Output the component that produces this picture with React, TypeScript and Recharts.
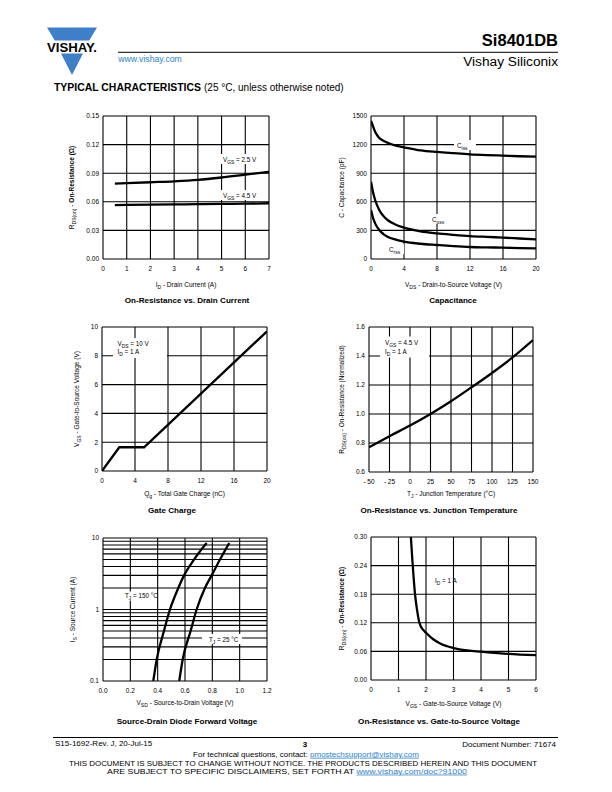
import React from "react";
import { LineChart, Line, XAxis, YAxis, CartesianGrid } from "recharts";

const FONT = "'Liberation Sans', Arial, Helvetica, sans-serif";
const BLUE = "#2f7fc6";
const LOGO = "#3f7fc8";

// On-Resistance vs. Drain Current
const idAmps = [0.5, 1, 2, 3, 4, 5, 6, 7];
const rdsAt25V = [0.079, 0.0795, 0.0805, 0.0815, 0.083, 0.0855, 0.0885, 0.0915];
const rdsAt45V = [0.0565, 0.0567, 0.057, 0.0572, 0.0575, 0.0578, 0.058, 0.0585];
const idTicks = [0, 1, 2, 3, 4, 5, 6, 7];
const rdsTicks = [0, 0.03, 0.06, 0.09, 0.12, 0.15];

// Capacitance
const vdsVolts = [0, 0.25, 0.5, 1, 1.5, 2, 3, 4, 6, 8, 10, 12, 14, 16, 18, 20];
const ciss = [1450, 1390, 1335, 1270, 1240, 1220, 1190, 1172, 1140, 1123, 1110, 1098, 1090, 1084, 1078, 1073];
const coss = [811, 700, 619, 514, 450, 409, 360, 329, 290, 269, 254, 241, 232, 224, 215, 206];
const crss = [514, 430, 374, 304, 262, 234, 203, 182, 160, 147, 135, 126, 122, 119, 115, 112];
const vdsTicks = [0, 4, 8, 12, 16, 20];
const capTicks = [0, 300, 600, 900, 1200, 1500];

// Gate Charge
const qgNc = [0, 2.1, 5.1, 20];
const vgsGate = [0, 1.65, 1.65, 9.7];
const qgTicks = [0, 4, 8, 12, 16, 20];
const vgsGateTicks = [0, 2, 4, 6, 8, 10];

// On-Resistance vs. Junction Temperature
const tjC = [-50, -25, 0, 25, 50, 75, 100, 125, 150];
const rdsNorm = [0.77, 0.847, 0.92, 1.0, 1.088, 1.184, 1.283, 1.39, 1.51];
const tjTicks = [-50, -25, 0, 25, 50, 75, 100, 125, 150];
const normTicks = [0.6, 0.8, 1.0, 1.2, 1.4, 1.6];

// Source-Drain Diode Forward Voltage
const isAmps = [0.1, 0.2, 0.5, 1, 2, 3, 5, 8.5];
const vsd150 = [0.368, 0.393, 0.446, 0.49, 0.551, 0.593, 0.666, 0.758];
const vsd25 = [0.558, 0.583, 0.641, 0.685, 0.746, 0.795, 0.856, 0.924];
const vsdTicks = [0, 0.2, 0.4, 0.6, 0.8, 1.0, 1.2];
const isTicks = [0.1, 0.2, 0.3, 0.4, 0.5, 0.6, 0.7, 0.8, 0.9, 1, 2, 3, 4, 5, 6, 7, 8, 9, 10];
const isLabels = [0.1, 1, 10];

// On-Resistance vs. Gate-to-Source Voltage
const vgsVolts = [1.45, 1.5, 1.55, 1.6, 1.68, 1.76, 1.9, 2, 2.25, 2.5, 3, 3.5, 4, 5, 6];
const rdsVsVgs = [0.3, 0.255, 0.215, 0.18, 0.145, 0.12, 0.105, 0.099, 0.086, 0.077, 0.067, 0.062, 0.0595, 0.055, 0.052];
const vgsTicks = [0, 1, 2, 3, 4, 5, 6];
const rdsVgsTicks = [0, 0.06, 0.12, 0.18, 0.24, 0.3];

type Pt = { x: number; y: number };
const pts = (xs: number[], ys: number[]): Pt[] => xs.map((x, i) => ({ x, y: ys[i] }));

type Box = { x: number; y: number; w: number; h: number };

interface PanelProps {
  box: Box;
  xDomain: [number, number];
  xTicks: number[];
  xFmt?: (v: number) => string;
  yDomain: [number, number];
  yTicks: number[];
  yFmt?: (v: number) => string;
  yLog?: boolean;
  series: Pt[][];
  curve?: "monotone" | "linear";
}

const tickStyle = { fontSize: 6.5, fill: "#000", fontFamily: FONT };

// log axis: grid at every tick, labels only on decades
function LogTick(props: any) {
  const { x, y, payload } = props;
  if (!isLabels.includes(payload.value)) return <g />;
  return (
    <text x={x} y={y} dy="0.355em" textAnchor="end" fontSize={6.5} fontFamily={FONT} fill="#000">
      {String(payload.value)}
    </text>
  );
}

function Panel({ box, xDomain, xTicks, xFmt, yDomain, yTicks, yFmt, yLog, series, curve = "monotone" }: PanelProps) {
  const ml = 40;
  const mt = 10;
  const mr = 12;
  const xh = 22;
  return (
    <div style={{ position: "absolute", left: box.x - ml, top: box.y - mt }}>
      <LineChart width={box.w + ml + mr} height={box.h + mt + xh} margin={{ top: mt, right: mr, left: 0, bottom: 0 }}>
        <CartesianGrid stroke="#000" strokeWidth={1.1} />
        <XAxis
          type="number"
          dataKey="x"
          domain={xDomain}
          ticks={xTicks}
          interval={0}
          allowDataOverflow
          height={xh}
          axisLine={false}
          tickLine={false}
          tickSize={0}
          tickMargin={7}
          tick={tickStyle}
          tickFormatter={xFmt}
        />
        <YAxis
          type="number"
          domain={yDomain}
          ticks={yTicks}
          interval={0}
          scale={yLog ? "log" : "auto"}
          allowDataOverflow
          width={ml}
          axisLine={false}
          tickLine={false}
          tickSize={0}
          tickMargin={4}
          tick={yLog ? LogTick : tickStyle}
          tickFormatter={yFmt}
        />
        {series.map((s, i) => (
          <Line
            key={i}
            data={s}
            dataKey="y"
            type={curve}
            stroke="#000"
            strokeWidth={2.3}
            dot={false}
            activeDot={false}
            isAnimationActive={false}
          />
        ))}
      </LineChart>
    </div>
  );
}

const B1: Box = { x: 103, y: 116, w: 166, h: 143 };
const B2: Box = { x: 371, y: 116, w: 165, h: 143 };
const B3: Box = { x: 102, y: 327, w: 165, h: 144 };
const B4: Box = { x: 369, y: 327, w: 164, h: 145 };
const B5: Box = { x: 103, y: 538, w: 164, h: 143 };
const B6: Box = { x: 371, y: 537, w: 165, h: 143 };

function Sub({ children }: { children: React.ReactNode }) {
  return (
    <tspan fontSize="78%" baselineShift="-1.7">
      {children}
    </tspan>
  );
}

function XTitle({ box, y, children }: { box: Box; y: number; children: React.ReactNode }) {
  return (
    <text x={box.x + box.w / 2} y={y} textAnchor="middle" fontSize={6.5} fontFamily={FONT}>
      {children}
    </text>
  );
}

function YTitle({ x, box, children }: { x: number; box: Box; children: React.ReactNode }) {
  return (
    <text
      transform={`translate(${x},${box.y + box.h / 2}) rotate(-90)`}
      textAnchor="middle"
      fontSize={6.5}
      fontFamily={FONT}
    >
      {children}
    </text>
  );
}

function Title({ cx, y, children }: { cx: number; y: number; children: React.ReactNode }) {
  return (
    <text x={cx} y={y} textAnchor="middle" fontSize={8.1} fontWeight="bold" fontFamily={FONT}>
      {children}
    </text>
  );
}

function Tag({ x, y, w, h, children }: { x: number; y: number; w: number; h: number; children: React.ReactNode }) {
  return (
    <g>
      <rect x={x} y={y} width={w} height={h} fill="#fff" />
      {children}
    </g>
  );
}

function PageText() {
  return (
    <svg width={612} height={792} style={{ position: "absolute", left: 0, top: 0 }} fontFamily={FONT}>
      {/* logo */}
      <polygon points="47,27.5 97,27.5 89.2,40.5 54.8,40.5" fill={LOGO} />
      <polygon points="61,53.5 83,53.5 72,75" fill={LOGO} />
      <text x={47} y={51.8} fontSize={13} fontWeight="bold" textLength={50} lengthAdjust="spacingAndGlyphs">
        VISHAY.
      </text>
      <line x1={118} y1={52.3} x2={558} y2={52.3} stroke="#000" strokeWidth={1} />
      <text x={558} y={46} textAnchor="end" fontSize={16.5} fontWeight="bold">Si8401DB</text>
      <text x={118.3} y={61.5} fontSize={8.7} fill={BLUE}>www.vishay.com</text>
      <text x={558} y={66} textAnchor="end" fontSize={13.7}>Vishay Siliconix</text>
      <text x={54} y={90.7} fontSize={10} fontWeight={900} textLength={147} lengthAdjust="spacingAndGlyphs">
        TYPICAL CHARACTERISTICS
      </text>
      <text x={204} y={90.7} fontSize={10}>(25 °C, unless otherwise noted)</text>

      {/* chart 1 */}
      <YTitle x={74} box={B1}>
        R<Sub>DS(on)</Sub> - <tspan fontWeight="bold">On-Resistance (Ω)</tspan>
      </YTitle>
      <XTitle box={B1} y={287}>I<Sub>D</Sub> - Drain Current (A)</XTitle>
      <Title cx={187} y={303}>On-Resistance vs. Drain Current</Title>

      {/* chart 2 */}
      <YTitle x={344} box={B2}>C - Capacitance (pF)</YTitle>
      <XTitle box={B2} y={287}>V<Sub>DS</Sub> - Drain-to-Source Voltage (V)</XTitle>
      <Title cx={453} y={303}>Capacitance</Title>

      {/* chart 3 */}
      <YTitle x={79} box={B3}>
        V<Sub>GS</Sub> - Gate-to-Source Voltage (V)
      </YTitle>
      <XTitle box={B3} y={496}>Q<Sub>g</Sub> - Total Gate Charge (nC)</XTitle>
      <Title cx={172} y={513}>Gate Charge</Title>

      {/* chart 4 */}
      <YTitle x={344} box={B4}>
        R<Sub>DS(on)</Sub> - On-Resistance (Normalized)
      </YTitle>
      <XTitle box={B4} y={496}>T<Sub>J</Sub> - Junction Temperature (°C)</XTitle>
      <Title cx={439} y={513}>On-Resistance vs. Junction Temperature</Title>

      {/* chart 5 */}
      <YTitle x={75} box={B5}>
        I<Sub>S</Sub> - Source Current (A)
      </YTitle>
      <XTitle box={B5} y={705}>V<Sub>SD</Sub> - Source-to-Drain Voltage (V)</XTitle>
      <Title cx={187} y={724}>Source-Drain Diode Forward Voltage</Title>

      {/* chart 6 */}
      <YTitle x={344} box={B6}>
        R<Sub>DS(on)</Sub> - <tspan fontWeight="bold">On-Resistance (Ω)</tspan>
      </YTitle>
      <XTitle box={B6} y={706}>V<Sub>GS</Sub> - Gate-to-Source Voltage (V)</XTitle>
      <Title cx={439} y={724}>On-Resistance vs. Gate-to-Source Voltage</Title>

      {/* footer */}
      <line x1={53} y1={737.5} x2={558} y2={737.5} stroke="#000" strokeWidth={1.2} />
      <text x={55} y={746} fontSize={8}>S15-1692-Rev. J, 20-Jul-15</text>
      <text x={305} y={746.5} textAnchor="middle" fontSize={8} fontWeight="bold">3</text>
      <text x={556} y={746.5} textAnchor="end" fontSize={8}>Document Number: 71674</text>
      <text x={306} y={756.7} textAnchor="middle" fontSize={8}>
        For technical questions, contact:{" "}
        <tspan fill={BLUE} textDecoration="underline">pmostechsupport@vishay.com</tspan>
      </text>
      <text x={69} y={766} fontSize={7.5} textLength={468} lengthAdjust="spacingAndGlyphs">
        THIS DOCUMENT IS SUBJECT TO CHANGE WITHOUT NOTICE. THE PRODUCTS DESCRIBED HEREIN AND THIS DOCUMENT
      </text>
      <text x={107} y={773.6} fontSize={7.5} textLength={360} lengthAdjust="spacingAndGlyphs">
        ARE SUBJECT TO SPECIFIC DISCLAIMERS, SET FORTH AT{" "}
        <tspan fill={BLUE} textDecoration="underline">www.vishay.com/doc?91000</tspan>
      </text>
    </svg>
  );
}

function PlotLabels() {
  return (
    <svg width={612} height={792} style={{ position: "absolute", left: 0, top: 0, pointerEvents: "none" }} fontFamily={FONT} fontSize={6.3}>
      {/* chart 1 */}
      <Tag x={220} y={154} w={34} h={10}>
        <text x={223} y={161.5}>V<Sub>GS</Sub> = 2.5 V</text>
      </Tag>
      <Tag x={220} y={190} w={34} h={10}>
        <text x={223} y={197.5}>V<Sub>GS</Sub> = 4.5 V</text>
      </Tag>

      {/* chart 2 */}
      <Tag x={454} y={140} w={22} h={10}>
        <text x={457} y={147.5}>C<Sub>iss</Sub></text>
      </Tag>
      <Tag x={429} y={214} w={19} h={10}>
        <text x={432} y={221.5}>C<Sub>oss</Sub></text>
      </Tag>
      <Tag x={387} y={244} w={17} h={10}>
        <text x={389} y={251.5}>C<Sub>rss</Sub></text>
      </Tag>

      {/* chart 3 */}
      <Tag x={113} y={338} w={54} h={20}>
        <text x={117.5} y={345.5}>V<Sub>DS</Sub> = 10 V</text>
        <text x={117.5} y={354}>I<Sub>D</Sub> = 1 A</text>
      </Tag>

      {/* chart 4 */}
      <Tag x={380} y={336.5} w={49} h={21}>
        <text x={385} y={344.5}>V<Sub>GS</Sub> = 4.5 V</text>
        <text x={385} y={353.5}>I<Sub>D</Sub> = 1 A</text>
      </Tag>

      {/* chart 5 */}
      <Tag x={122} y={591.5} w={35} h={9}>
        <text x={125} y={598.2}>T<Sub>J</Sub> = 150 °C</text>
      </Tag>
      <Tag x={202} y={634} w={40} h={10}>
        <text x={209} y={641.5}>T<Sub>J</Sub> = 25 °C</text>
      </Tag>

      {/* chart 6 */}
      <text x={435} y={582.5}>I<Sub>D</Sub> = 1 A</text>
    </svg>
  );
}

const fmt2 = (v: number) => v.toFixed(2);
const fmt1 = (v: number) => v.toFixed(1);
const fmtTemp = (v: number) => (v < 0 ? `- ${Math.abs(v)}` : String(v));

export default function App() {
  return (
    <div style={{ position: "absolute", left: 0, top: 0, width: 612, height: 792, background: "#fff", fontFamily: FONT }}>
      <PageText />
      <Panel
        box={B1}
        xDomain={[0, 7]}
        xTicks={idTicks}
        yDomain={[0, 0.15]}
        yTicks={rdsTicks}
        yFmt={fmt2}
        series={[pts(idAmps, rdsAt25V), pts(idAmps, rdsAt45V)]}
      />
      <Panel
        box={B2}
        xDomain={[0, 20]}
        xTicks={vdsTicks}
        yDomain={[0, 1500]}
        yTicks={capTicks}
        series={[pts(vdsVolts, ciss), pts(vdsVolts, coss), pts(vdsVolts, crss)]}
      />
      <Panel
        box={B3}
        xDomain={[0, 20]}
        xTicks={qgTicks}
        yDomain={[0, 10]}
        yTicks={vgsGateTicks}
        series={[pts(qgNc, vgsGate)]}
        curve="linear"
      />
      <Panel
        box={B4}
        xDomain={[-50, 150]}
        xTicks={tjTicks}
        xFmt={fmtTemp}
        yDomain={[0.6, 1.6]}
        yTicks={normTicks}
        yFmt={fmt1}
        series={[pts(tjC, rdsNorm)]}
      />
      <Panel
        box={B5}
        xDomain={[0, 1.2]}
        xTicks={vsdTicks}
        xFmt={fmt1}
        yDomain={[0.1, 10]}
        yTicks={isTicks}
        yLog
        series={[pts(vsd150, isAmps), pts(vsd25, isAmps)]}
      />
      <Panel
        box={B6}
        xDomain={[0, 6]}
        xTicks={vgsTicks}
        yDomain={[0, 0.3]}
        yTicks={rdsVgsTicks}
        yFmt={fmt2}
        series={[pts(vgsVolts, rdsVsVgs)]}
      />
      <PlotLabels />
    </div>
  );
}
